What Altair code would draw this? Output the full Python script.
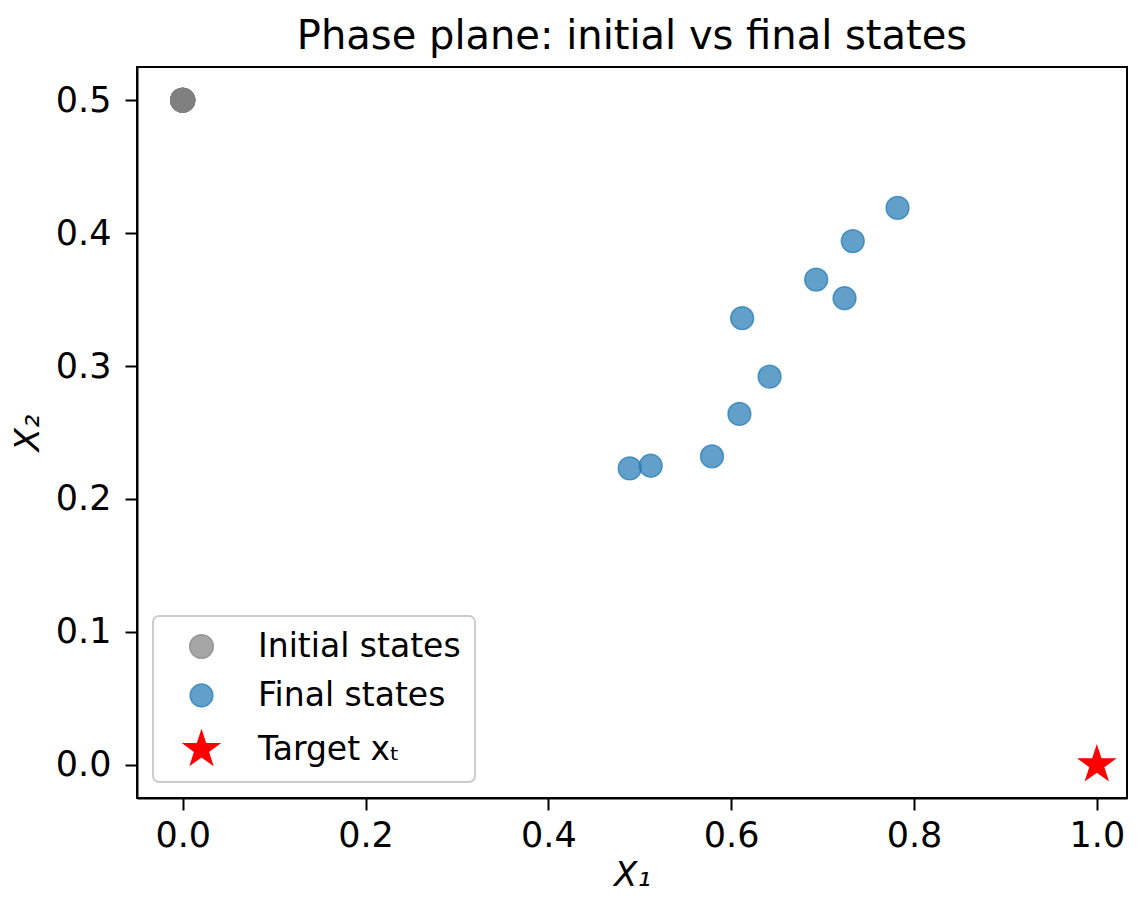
import altair as alt
import pandas as pd

# ---- data ----
init_x = [0.0] * 10
init_y = [0.5] * 10
final_x = [0.489, 0.512, 0.579, 0.609, 0.642, 0.612, 0.693, 0.724, 0.733, 0.782]
final_y = [0.223, 0.225, 0.232, 0.264, 0.292, 0.336, 0.365, 0.351, 0.394, 0.419]
target_x = [1.0]
target_y = [0.0]

series_names = ["Initial states", "Final states", "Target xₜ"]
fill_colors = ["rgba(128,128,128,0.7)", "rgba(31,119,180,0.7)", "#ff0000"]
stroke_colors = ["rgba(128,128,128,0.7)", "rgba(31,119,180,0.7)", "#ff0000"]
R = 1.68
star_pts = [(0, -1), (0.2245, -0.309), (0.9511, -0.309), (0.3633, 0.118), (0.5878, 0.809),
            (0, 0.382), (-0.5878, 0.809), (-0.3633, 0.118), (-0.9511, -0.309), (-0.2245, -0.309)]
star_path = "M" + "L".join(f"{px * R:.4f},{py * R:.4f}" for px, py in star_pts) + "Z"
shapes = ["circle", "circle", star_path]
sizes = [560, 480, 500]

rows = []
for x, y in zip(init_x, init_y):
    rows.append({"x": x, "y": y, "series": series_names[0]})
for x, y in zip(final_x, final_y):
    rows.append({"x": x, "y": y, "series": series_names[1]})
for x, y in zip(target_x, target_y):
    rows.append({"x": x, "y": y, "series": series_names[2]})
df = pd.DataFrame(rows)

FONT = "DejaVu Sans"

chart = (
    alt.Chart(df)
    .mark_point(filled=True, strokeWidth=1.5, opacity=1)
    .encode(
        x=alt.X(
            "x:Q",
            scale=alt.Scale(domain=[-0.05, 1.033], nice=False, zero=False),
            axis=alt.Axis(
                title="X₁",
                values=[0.0, 0.2, 0.4, 0.6, 0.8, 1.0],
                format=".1f",
                grid=False,
            ),
        ),
        y=alt.Y(
            "y:Q",
            scale=alt.Scale(domain=[-0.025, 0.525], nice=False, zero=False),
            axis=alt.Axis(
                title="X₂",
                values=[0.0, 0.1, 0.2, 0.3, 0.4, 0.5],
                format=".1f",
                grid=False,
            ),
        ),
        color=alt.Color(
            "series:N",
            scale=alt.Scale(domain=series_names, range=fill_colors),
            sort=series_names,
            legend=alt.Legend(title=None),
        ),
        shape=alt.Shape(
            "series:N",
            scale=alt.Scale(domain=series_names, range=shapes),
            sort=series_names,
            legend=alt.Legend(title=None),
        ),
        size=alt.Size(
            "series:N",
            scale=alt.Scale(domain=series_names, range=sizes),
            sort=series_names,
            legend=alt.Legend(title=None),
        ),
        stroke=alt.Stroke(
            "series:N",
            scale=alt.Scale(domain=series_names, range=stroke_colors),
            legend=None,
        ),
    )
    .properties(
        width=990,
        height=731,
        title=alt.Title(
            "Phase plane: initial vs final states",
            fontSize=40,
            font=FONT,
            fontWeight="normal",
            color="black",
            anchor="middle",
            offset=10,
        ),
        autosize=alt.AutoSizeParams(type="none"),
        padding={"left": 129, "top": 59, "right": 5, "bottom": 97},
    )
    .configure_view(stroke="black", strokeWidth=2)
    .configure_axis(
        domainColor="black",
        domainWidth=2,
        tickColor="black",
        tickWidth=2,
        tickSize=12,
        labelFont=FONT,
        labelFontSize=35,
        labelColor="black",
        labelPadding=10,
        titleFont=FONT,
        titleFontSize=34,
        titleFontWeight="normal",
        titleFontStyle="italic",
        titleColor="black",
        labelFlush=False,
    )
    .configure_axisX(titlePadding=5, labelPadding=8)
    .configure_axisY(titlePadding=10, labelPadding=14)
    .configure_legend(
        orient="bottom-left",
        offset=16,
        padding=14,
        strokeColor="#cccccc",
        fillColor="white",
        cornerRadius=6,
        strokeWidth=2,
        labelFont=FONT,
        labelFontSize=33,
        labelColor="black",
        labelOffset=40,
        labelLimit=0,
        symbolOffset=18,
        rowPadding=15,
        symbolStrokeWidth=1.5,
    )
)

chart.save("out.html", embed_options={"renderer": "svg", "actions": False})
